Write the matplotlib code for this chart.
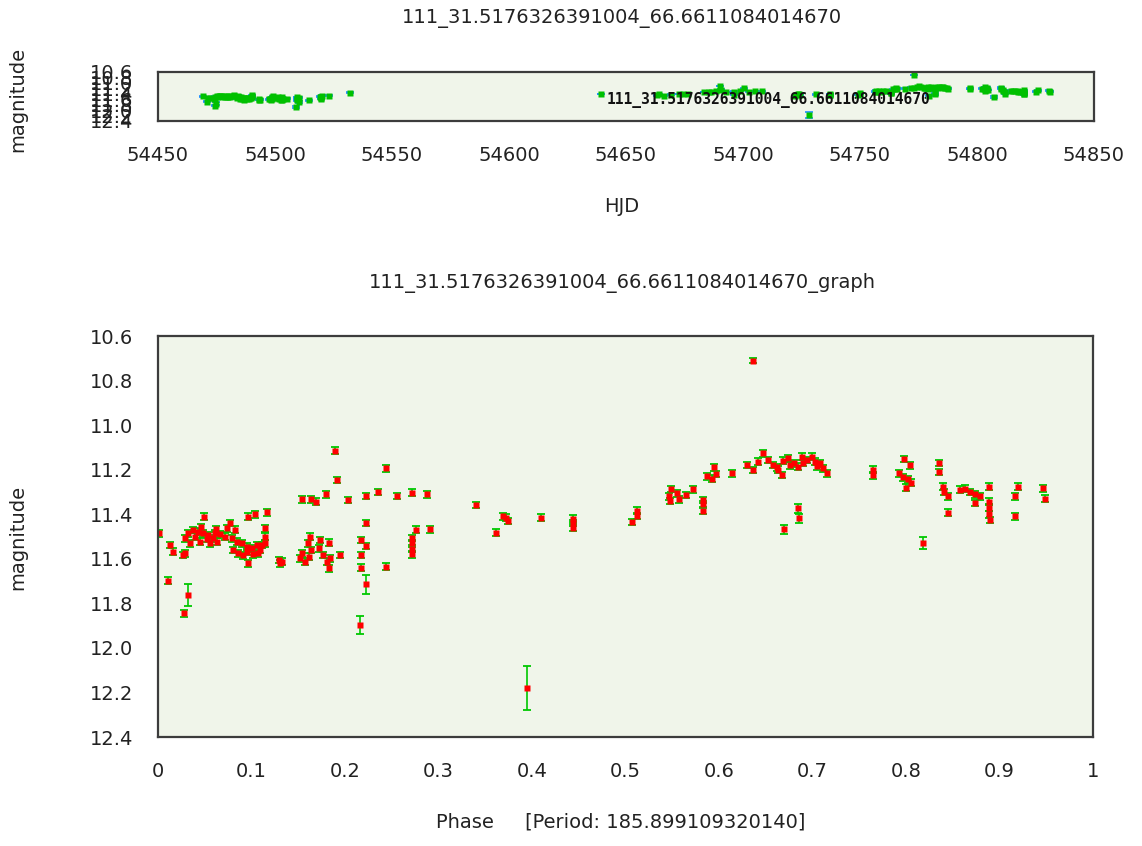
import numpy as np
import matplotlib.pyplot as plt

star_id = "111_31.5176326391004_66.6611084014670"
period = 185.899109320140
epoch = 54469.0

# HJD of each observation
hjd = [
    # first season, dense start
    54469.19, 54470.93, 54471.38, 54472.05, 54474.02, 54474.37, 54474.21, 54474.95, 54474.39, 54475.02,
    54475.36, 54476.01, 54476.99, 54477.35, 54478.00, 54479.00, 54479.34, 54479.99, 54480.67, 54482.33,
    54482.66, 54483.65, 54483.96, 54484.32, 54484.65, 54484.97, 54485.64, 54486.64, 54486.70, 54486.96,
    54487.63, 54488.63, 54489.28, 54489.63, 54490.27, 54490.30, 54490.33, 54493.13, 54493.17, 54493.59,
    54485.95, 54487.96, 54488.98, 54481.36, 54476.34, 54478.67, 54480.25,
    54497.24, 54498.22, 54498.93, 54498.89, 54499.23, 54499.49, 54501.07, 54501.22, 54501.87, 54502.54,
    54503.06, 54503.21, 54503.08, 54505.19, 54497.72,
    54509.36, 54509.38, 54509.40, 54509.15, 54510.36, 54510.38, 54514.34,
    54519.43, 54519.45, 54519.47, 54519.49, 54520.23, 54523.10, 54532.21,
    # second season
    54639.40,
    54664.10, 54663.38, 54666.43, 54669.21, 54672.86, 54674.18, 54676.50, 54683.47, 54685.39, 54686.32,
    54688.25, 54690.03, 54690.41, 54692.62, 54696.26, 54696.28, 54698.70, 54700.26, 54702.36, 54705.33, 54708.33,
    54722.10, 54723.50, 54724.05, 54724.43, 54728.33, 54731.12, 54737.35, 54737.37, 54737.39,
    54749.08, 54750.19, 54750.21, 54756.40, 54756.77, 54756.96, 54758.07, 54758.54, 54759.93, 54761.23,
    54763.28, 54763.30, 54763.32, 54764.02, 54764.95, 54765.45, 54765.88, 54769.04, 54771.94, 54773.13,
    54773.15, 54774.25, 54775.25, 54776.24, 54777.22, 54778.23, 54778.89, 54779.21, 54779.36, 54780.20,
    54781.31, 54782.22, 54782.24, 54782.26, 54782.87, 54783.91, 54784.86, 54785.53, 54786.52, 54787.19,
    54787.82, 54783.17, 54780.57, 54777.97, 54785.96,
    54797.11, 54797.13, 54802.13, 54803.25, 54804.36, 54802.93, 54803.92, 54804.55, 54803.62, 54807.07,
    54810.13, 54810.15, 54811.06, 54811.08, 54811.98, 54812.00, 54814.40, 54815.33, 54816.26, 54817.38,
    54817.40, 54818.31, 54820.16, 54820.18, 54820.20, 54820.22, 54820.24, 54825.93, 54825.30, 54830.95, 54831.32,
]

mag = [
    11.486, 11.698, 11.538, 11.568, 11.583, 11.575, 11.845, 11.762, 11.508, 11.486,
    11.531, 11.471, 11.478, 11.523, 11.486, 11.493, 11.531, 11.508, 11.523, 11.500,
    11.463, 11.508, 11.560, 11.470, 11.523, 11.575, 11.530, 11.546, 11.568, 11.620,
    11.553, 11.538, 11.560, 11.538, 11.463, 11.500, 11.530, 11.605, 11.620, 11.613,
    11.585, 11.580, 11.575, 11.490, 11.500, 11.510, 11.485,
    11.598, 11.613, 11.590, 11.530, 11.500, 11.560, 11.553, 11.516, 11.583, 11.613,
    11.528, 11.598, 11.643, 11.583, 11.575,
    11.516, 11.583, 11.640, 11.897, 11.543, 11.715, 11.636,
    11.507, 11.530, 11.555, 11.580, 11.470, 11.468, 11.359,
    11.410,
    11.411, 11.459, 11.466, 11.440, 11.411, 11.400, 11.391, 11.333, 11.333, 11.344,
    11.310, 11.115, 11.246, 11.336, 11.318, 11.440, 11.300, 11.194, 11.318, 11.303, 11.310,
    11.483, 11.410, 11.415, 11.430, 12.180, 11.415, 11.420, 11.440, 11.460,
    11.435, 11.384, 11.408, 11.320, 11.340, 11.287, 11.306, 11.333, 11.314, 11.288,
    11.336, 11.354, 11.385, 11.230, 11.240, 11.190, 11.220, 11.216, 11.179, 10.711,
    11.202, 11.164, 11.127, 11.157, 11.179, 11.200, 11.224, 11.160, 11.468, 11.149,
    11.172, 11.187, 11.373, 11.418, 11.142, 11.157, 11.142, 11.164, 11.172, 11.194,
    11.216, 11.170, 11.180, 11.190, 11.185,
    11.200, 11.225, 11.216, 11.152, 11.180, 11.235, 11.244, 11.259, 11.281, 11.528,
    11.170, 11.210, 11.276, 11.300, 11.320, 11.393, 11.290, 11.285, 11.300, 11.310,
    11.350, 11.320, 11.276, 11.344, 11.370, 11.400, 11.426, 11.276, 11.320, 11.284, 11.330,
]

mag_err = [
    0.015, 0.015, 0.015, 0.015, 0.015, 0.015, 0.015, 0.048, 0.015, 0.015,
    0.015, 0.015, 0.015, 0.015, 0.015, 0.015, 0.015, 0.015, 0.015, 0.015,
    0.015, 0.015, 0.015, 0.015, 0.015, 0.015, 0.015, 0.015, 0.015, 0.015,
    0.015, 0.015, 0.015, 0.015, 0.015, 0.015, 0.015, 0.015, 0.015, 0.015,
    0.015, 0.015, 0.015, 0.015, 0.015, 0.015, 0.015,
    0.015, 0.015, 0.015, 0.015, 0.015, 0.015, 0.015, 0.015, 0.015, 0.015,
    0.015, 0.015, 0.015, 0.015, 0.015,
    0.015, 0.015, 0.015, 0.040, 0.015, 0.041, 0.015,
    0.015, 0.015, 0.015, 0.015, 0.015, 0.015, 0.015,
    0.015,
    0.015, 0.015, 0.015, 0.015, 0.015, 0.015, 0.015, 0.015, 0.015, 0.015,
    0.015, 0.015, 0.015, 0.015, 0.015, 0.015, 0.015, 0.017, 0.015, 0.015, 0.015,
    0.015, 0.015, 0.015, 0.015, 0.100, 0.015, 0.015, 0.015, 0.015,
    0.015, 0.015, 0.015, 0.015, 0.015, 0.015, 0.015, 0.015, 0.015, 0.015,
    0.015, 0.015, 0.015, 0.015, 0.015, 0.015, 0.015, 0.015, 0.015, 0.012,
    0.015, 0.015, 0.015, 0.015, 0.015, 0.015, 0.015, 0.015, 0.019, 0.015,
    0.015, 0.015, 0.020, 0.020, 0.015, 0.015, 0.015, 0.015, 0.015, 0.015,
    0.015, 0.015, 0.015, 0.015, 0.015,
    0.015, 0.015, 0.015, 0.015, 0.015, 0.015, 0.015, 0.015, 0.015, 0.028,
    0.015, 0.015, 0.015, 0.015, 0.015, 0.015, 0.015, 0.015, 0.015, 0.015,
    0.015, 0.015, 0.015, 0.015, 0.015, 0.015, 0.015, 0.015, 0.015, 0.015, 0.015,
]

hjd_ticks = [54450, 54500, 54550, 54600, 54650, 54700, 54750, 54800, 54850]
mag_ticks = [10.6, 10.8, 11.0, 11.2, 11.4, 11.6, 11.8, 12.0, 12.2, 12.4]
phase_ticks = [0, 0.1, 0.2, 0.3, 0.4, 0.5, 0.6, 0.7, 0.8, 0.9, 1]
phase_labels = ["0", "0.1", "0.2", "0.3", "0.4", "0.5", "0.6", "0.7", "0.8", "0.9", "1"]

hjd = np.array(hjd)
mag = np.array(mag)
mag_err = np.array(mag_err)
phase = ((hjd - epoch) / period) % 1.0

plt.rcParams["font.family"] = "DejaVu Sans"
bg = "#f0f5ea"
frame = "#3c3c3c"

W, H = 1142, 846
fig = plt.figure(figsize=(W / 100, H / 100), dpi=100)


def px_axes(left, top, right, bottom):
    return fig.add_axes([left / W, 1 - bottom / H, (right - left) / W, (bottom - top) / H])


def style(ax):
    ax.set_facecolor(bg)
    for s in ax.spines.values():
        s.set_color(frame)
        s.set_linewidth(1.6)
    ax.tick_params(length=0, labelsize=14, pad=18, colors="#222222")


# light curve vs time
ax1 = px_axes(158, 72, 1094, 121)
style(ax1)
ax1.errorbar(hjd, mag, yerr=mag_err, fmt="none", ecolor="#1e90ff",
             elinewidth=1.0, capsize=3.0, capthick=1.2)
ax1.plot(hjd, mag, "s", color="#00c000", ms=4.4, mec="none")
ax1.set_xlim(54450, 54850)
ax1.set_ylim(12.4, 10.6)
ax1.set_xticks(hjd_ticks)
ax1.set_xticklabels([str(t) for t in hjd_ticks])
ax1.set_yticks(mag_ticks)
ax1.set_yticklabels(["%.1f" % t for t in mag_ticks])
# series name next to the first point of the second season
i0 = int(np.argmax(hjd > 54600))
ax1.annotate(star_id, xy=(hjd[i0], mag[i0]), xytext=(4, -4), textcoords="offset points",
             va="center", ha="left", fontsize=10.5, family="DejaVu Sans Mono",
             fontweight="bold", color="#111111")

# phased light curve
ax2 = px_axes(158, 336, 1093, 737)
style(ax2)
ax2.errorbar(phase, mag, yerr=mag_err, fmt="none", ecolor="#00c800",
             elinewidth=1.2, capsize=3.0, capthick=1.3)
ax2.plot(phase, mag, "s", color="#ff0000", ms=5.0, mec="none")
ax2.set_xlim(0, 1)
ax2.set_ylim(12.4, 10.6)
ax2.set_xticks(phase_ticks)
ax2.set_xticklabels(phase_labels)
ax2.set_yticks(mag_ticks)
ax2.set_yticklabels(["%.1f" % t for t in mag_ticks])

# titles and axis labels
def ftext(x, y, s, **kw):
    fig.text(x / W, 1 - y / H, s, ha="center", va="center", fontsize=14, color="#222222", **kw)


ftext(622, 18, star_id)
ftext(622, 207, "HJD")
ftext(622, 283, star_id + "_graph")
ftext(621, 822, "Phase     [Period: %.12f]" % period)
ftext(18, 99, "magnitude", rotation=90)
ftext(18, 537, "magnitude", rotation=90)

fig.savefig("out.png", dpi=100)
